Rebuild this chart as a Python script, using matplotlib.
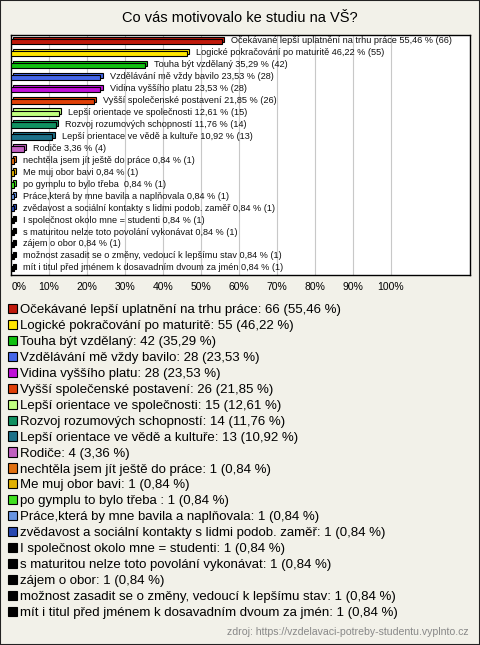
import matplotlib
matplotlib.use("Agg")
import matplotlib.pyplot as plt
from matplotlib.patches import Patch, Rectangle

plt.rcParams['font.family'] = ['Liberation Sans', 'DejaVu Sans']

title = "Co vás motivovalo ke studiu na VŠ?"
source = "zdroj: https://vzdelavaci-potreby-studentu.vyplnto.cz"

answers = [
    "Očekávané lepší uplatnění na trhu práce",
    "Logické pokračování po maturitě",
    "Touha být vzdělaný",
    "Vzdělávání mě vždy bavilo",
    "Vidina vyššího platu",
    "Vyšší společenské postavení",
    "Lepší orientace ve společnosti",
    "Rozvoj rozumových schopností",
    "Lepší orientace ve vědě a kultuře",
    "Rodiče",
    "nechtěla jsem jít ještě do práce",
    "Me muj obor bavi",
    "po gymplu to bylo třeba ",
    "Práce,která by mne bavila a naplňovala",
    "zvědavost a sociální kontakty s lidmi podob. zaměř",
    "I společnost okolo mne = studenti",
    "s maturitou nelze toto povolání vykonávat",
    "zájem o obor",
    "možnost zasadit se o změny, vedoucí k lepšímu stav",
    "mít i titul před jménem k dosavadním dvoum za jmén",
]
counts = [66, 55, 42, 28, 28, 26, 15, 14, 13, 4, 1, 1, 1, 1, 1, 1, 1, 1, 1, 1]
percents = [55.46, 46.22, 35.29, 23.53, 23.53, 21.85, 12.61, 11.76, 10.92, 3.36,
            0.84, 0.84, 0.84, 0.84, 0.84, 0.84, 0.84, 0.84, 0.84, 0.84]
colors = ['#c01a0c', '#ffe600', '#10c010', '#4466e8', '#c010d8', '#e04008',
          '#c0ff80', '#109060', '#1c7088', '#c060c0', '#e07010', '#e0b000',
          '#40e020', '#6894e0', '#2848b0', '#000000', '#000000', '#000000',
          '#000000', '#000000']
xticks = [0, 10, 20, 30, 40, 50, 60, 70, 80, 90, 100]

bg = '#f2f1e9'
W, H = 480, 645
fig = plt.figure(figsize=(W / 100, H / 100), dpi=100, facecolor=bg)

# outer frame
fig.patches.append(Rectangle((0, 0), 1, 1, transform=fig.transFigure, fill=False,
                             edgecolor='#222222', linewidth=1.5))

fig.text(0.5, 1 - 18 / H, title, ha='center', va='center', fontsize=10.5)

ax = fig.add_axes([11 / W, 1 - 275 / H, (470 - 11) / W, 240 / H])
ax.set_facecolor('white')
for s in ax.spines.values():
    s.set_color('black')
    s.set_linewidth(1)

n = len(answers)
ypos = list(range(n))
ax.set_xlim(0, 120.8)
ax.set_ylim(n - 0.45, -0.55)
for t in xticks[1:]:
    ax.axvline(t, color='#c8c8c8', linewidth=0.8, zorder=0)

# 3D-ish bars: back face shifted up/right, front face in front
dx, dy = 0.6, 0.17
ax.barh([y - dy for y in ypos], percents, left=dx, height=0.45,
        color=colors, edgecolor='black', linewidth=0.8, zorder=2)
ax.barh(ypos, percents, height=0.45, color=colors, edgecolor='black',
        linewidth=0.8, zorder=3)

for y, name, p, c in zip(ypos, answers, percents, counts):
    lbl = "%s %s %% (%d)" % (name, ("%.2f" % p).replace('.', ','), c)
    ax.text(p + 2.4, y - 0.05, lbl, ha='left', va='center', fontsize=6.6,
            color='#111111', zorder=4)

ax.set_yticks([])
ax.set_xticks([])
for t in xticks:
    if t == 0:
        fig.text(12 / W, 1 - 287 / H, "%d%%" % t, ha='left', va='center', fontsize=7.5)
    else:
        fig.text((11 + t * 3.8) / W, 1 - 287 / H, "%d%%" % t, ha='center',
                 va='center', fontsize=7.5)

handles = [Patch(facecolor=c, edgecolor='black', linewidth=0.8) for c in colors]
labels = ["%s: %d (%s %%)" % (name, c, ("%.2f" % p).replace('.', ','))
          for name, c, p in zip(answers, counts, percents)]
fig.legend(handles, labels, loc='upper left', bbox_to_anchor=(8 / W, 1 - 304 / H),
           frameon=False, fontsize=9.5, handlelength=0.7, handleheight=0.7,
           handletextpad=0.2, labelspacing=0.28, borderpad=0, borderaxespad=0)

fig.text(469 / W, 1 - 632 / H, source, ha='right', va='center', fontsize=7.6,
         color='#888888')

fig.savefig('out.png', dpi=100, facecolor=bg)
